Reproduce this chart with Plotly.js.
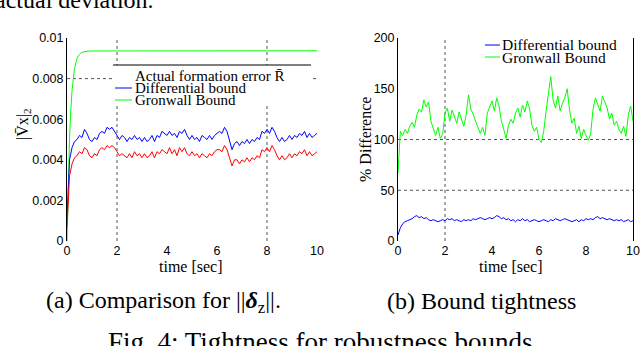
<!DOCTYPE html>
<html>
<head>
<meta charset="utf-8">
<script src="https://cdn.plot.ly/plotly-3.0.1.min.js"></script>
<style>
  html, body { margin: 0; padding: 0; background: #fff; }
  #chart { width: 640px; height: 346px; }
</style>
</head>
<body>
<div id="chart"></div>
<script>
// time samples [s]
var tSec = [0,0.1,0.2,0.3,0.4,0.5,0.6,0.7,0.8,0.9,
  1,1.1,1.2,1.3,1.4,1.5,1.6,1.7,1.8,1.9,
  2,2.1,2.2,2.3,2.4,2.5,2.6,2.7,2.8,2.9,
  3,3.1,3.2,3.3,3.4,3.5,3.6,3.7,3.8,3.9,
  4,4.1,4.2,4.3,4.4,4.5,4.6,4.7,4.8,4.9,
  5,5.1,5.2,5.3,5.4,5.5,5.6,5.7,5.8,5.9,
  6,6.1,6.2,6.3,6.4,6.5,6.6,6.7,6.8,6.9,
  7,7.1,7.2,7.3,7.4,7.5,7.6,7.7,7.8,7.9,
  8,8.1,8.2,8.3,8.4,8.5,8.6,8.7,8.8,8.9,
  9,9.1,9.2,9.3,9.4,9.5,9.6,9.7,9.8,9.9,10];

// (a) comparison
var diffBoundA = [0.0011,0.0040,0.0046,0.0049,0.0050,0.0052,0.0051,0.0055,0.0053,0.0050,
  0.0049,0.0051,0.0050,0.0053,0.0054,0.0053,0.0056,0.0055,0.0056,0.0054,
  0.0052,0.0050,0.0052,0.0051,0.0049,0.0051,0.0050,0.0052,0.0050,0.0051,
  0.0049,0.0051,0.0049,0.0050,0.0052,0.0049,0.0052,0.0051,0.0054,0.0053,
  0.0052,0.0054,0.0052,0.0053,0.0051,0.0054,0.0053,0.0055,0.0052,0.0050,
  0.0052,0.0050,0.0051,0.0049,0.0052,0.0051,0.0050,0.0052,0.0050,0.0052,
  0.0053,0.0054,0.0053,0.0056,0.0054,0.0050,0.0045,0.0048,0.0049,0.0047,
  0.0049,0.0048,0.0050,0.0048,0.0050,0.0049,0.0051,0.0050,0.0054,0.0053,
  0.0055,0.0053,0.0056,0.0054,0.0051,0.0049,0.0051,0.0049,0.0050,0.0052,
  0.0050,0.0052,0.0051,0.0053,0.0052,0.0054,0.0051,0.0053,0.0051,0.0052,0.0053];

var actualErrA = [0.0007,0.0032,0.0038,0.0041,0.0042,0.0044,0.0043,0.0046,0.0045,0.0042,
  0.0041,0.0043,0.0042,0.0045,0.0046,0.0045,0.0047,0.0046,0.0047,0.0046,
  0.0044,0.0042,0.0043,0.0042,0.0041,0.0043,0.0041,0.0044,0.0042,0.0043,
  0.0041,0.0043,0.0041,0.0042,0.0044,0.0041,0.0044,0.0043,0.0045,0.0044,
  0.0043,0.0046,0.0043,0.0045,0.0042,0.0046,0.0044,0.0046,0.0043,0.0042,
  0.0044,0.0042,0.0043,0.0041,0.0043,0.0042,0.0041,0.0043,0.0042,0.0044,
  0.0045,0.0045,0.0044,0.0047,0.0045,0.0041,0.0037,0.0040,0.0040,0.0038,
  0.0040,0.0039,0.0041,0.0039,0.0041,0.0040,0.0042,0.0041,0.0045,0.0044,
  0.0046,0.0044,0.0047,0.0045,0.0042,0.0040,0.0042,0.0040,0.0041,0.0043,
  0.0041,0.0043,0.0042,0.0044,0.0043,0.0045,0.0042,0.0044,0.0042,0.0043,0.0044];

var tGron = [0,0.05,0.1,0.15,0.2,0.3,0.4,0.5,0.6,0.8,1,10];
var gronBoundA = [0,0.0030,0.0050,0.0064,0.0074,0.0085,0.0090,0.0092,0.0093,0.00935,0.00936,0.00937];

// (b) tightness [%]
var diffPct = [6,13,17,19,20,21,22,24,25,23,
  24,22,23,21,20,21,20,19,20,21,
  20,22,21,22,20,21,20,19,21,20,
  21,20,22,21,22,23,22,21,22,23,
  22,23,25,24,22,23,21,22,20,21,
  19,21,20,22,20,21,19,20,21,20,
  19,20,21,20,19,21,20,22,21,20,
  21,22,21,20,19,20,21,19,21,20,
  22,21,22,21,23,24,22,23,22,21,
  22,21,20,21,20,21,19,20,21,19,20];

var gronPct = [67,108,104,110,106,113,117,112,124,130,
  127,139,132,137,118,110,104,112,101,105,
  126,131,118,129,122,116,127,121,113,124,
  144,130,125,118,111,106,112,104,126,132,
  138,128,141,133,118,110,101,114,120,116,
  126,131,122,134,127,138,130,114,108,112,
  100,97,108,128,148,162,139,131,143,128,
  136,141,150,129,116,121,106,113,101,110,
  104,99,106,130,141,134,128,143,136,131,
  120,126,114,118,110,106,113,103,124,133,118];

var xTicks = [0,2,4,6,8,10];
var yTicksA = [0,0.002,0.004,0.006,0.008,0.01];
var yTextA = ['0','0.002','0.004','0.006','0.008','0.01'];
var yTicksB = [0,50,100,150,200];

// pixel -> paper helpers (margins are zero)
function px(x){ return x / 640; }
function py(y){ return 1 - y / 346; }

var serif = 'Liberation Serif, DejaVu Serif, serif';
var sans = 'Liberation Sans, Arial, sans-serif';

var data = [
  {x: tGron, y: gronBoundA, xaxis: 'x', yaxis: 'y', type: 'scatter', mode: 'lines',
   line: {color: '#00ff00', width: 1}, name: 'Gronwall Bound'},
  {x: tSec, y: diffBoundA, xaxis: 'x', yaxis: 'y', type: 'scatter', mode: 'lines',
   line: {color: '#0000ff', width: 1}, name: 'Differential bound'},
  {x: tSec, y: actualErrA, xaxis: 'x', yaxis: 'y', type: 'scatter', mode: 'lines',
   line: {color: '#ff0000', width: 1}, name: 'Actual formation error'},
  {x: tSec, y: gronPct, xaxis: 'x2', yaxis: 'y2', type: 'scatter', mode: 'lines',
   line: {color: '#00ff00', width: 1}, name: 'Gronwall Bound'},
  {x: tSec, y: diffPct, xaxis: 'x2', yaxis: 'y2', type: 'scatter', mode: 'lines',
   line: {color: '#0000ff', width: 1}, name: 'Differential bound'}
];

var axX = {range: [0, 10], tickvals: xTicks, showgrid: false, zeroline: false,
  showline: false, ticks: '', tickfont: {family: sans, size: 12.5, color: '#000'}};
var axY = {showgrid: false, zeroline: false, showline: true, linecolor: '#000',
  linewidth: 1, ticks: '', tickfont: {family: sans, size: 12.5, color: '#000'}};

var dot = {color: '#555', width: 1, dash: 'dot'};

var shapes = [
  // grid (a)
  {type: 'line', xref: 'x', yref: 'y', x0: 2, x1: 2, y0: 0, y1: 0.01, line: dot, layer: 'below'},
  {type: 'line', xref: 'x', yref: 'y', x0: 8, x1: 8, y0: 0, y1: 0.01, line: dot, layer: 'below'},
  {type: 'line', xref: 'x', yref: 'y', x0: 0, x1: 10, y0: 0.008, y1: 0.008, line: dot, layer: 'below'},
  // grid (b)
  {type: 'line', xref: 'x2', yref: 'y2', x0: 2, x1: 2, y0: 0, y1: 200, line: dot, layer: 'below'},
  {type: 'line', xref: 'x2', yref: 'y2', x0: 0, x1: 10, y0: 100, y1: 100, line: dot, layer: 'below'},
  {type: 'line', xref: 'x2', yref: 'y2', x0: 0, x1: 10, y0: 50, y1: 50, line: dot, layer: 'below'},
  // legend box (a)
  {type: 'rect', xref: 'paper', yref: 'paper', x0: px(113), x1: px(311), y0: py(105), y1: py(65),
   fillcolor: '#fff', line: {width: 0}, layer: 'above'},
  {type: 'line', xref: 'paper', yref: 'paper', x0: px(113), x1: px(311), y0: py(65), y1: py(65),
   line: {color: '#000', width: 1}},
  {type: 'line', xref: 'paper', yref: 'paper', x0: px(115), x1: px(132), y0: py(88), y1: py(88),
   line: {color: '#0000ff', width: 1}},
  {type: 'line', xref: 'paper', yref: 'paper', x0: px(115), x1: px(132), y0: py(100), y1: py(100),
   line: {color: '#00ff00', width: 1}},
  // legend (b)
  {type: 'line', xref: 'paper', yref: 'paper', x0: px(485), x1: px(500), y0: py(45), y1: py(45),
   line: {color: '#0000ff', width: 1}},
  {type: 'line', xref: 'paper', yref: 'paper', x0: px(485), x1: px(500), y0: py(57), y1: py(57),
   line: {color: '#00ff00', width: 1}}
];

function label(text, x, y, size, opts){
  var a = {text: text, x: px(x), y: py(y), xref: 'paper', yref: 'paper', showarrow: false,
    xanchor: 'center', yanchor: 'middle', font: {family: serif, size: size, color: '#000'}};
  for (var k in opts) a[k] = opts[k];
  return a;
}

var annotations = [
  label('actual deviation.', -7, 0, 24, {xanchor: 'left'}),
  label('Actual formation error R\u0304', 133, 76, 15, {xanchor: 'left'}),
  label('Differential bound', 133, 88, 15, {xanchor: 'left'}),
  label('Gronwall Bound', 133, 100, 15, {xanchor: 'left'}),
  label('Differential bound', 500, 45, 15.5, {xanchor: 'left'}),
  label('Gronwall Bound', 500, 57, 15.5, {xanchor: 'left'}),
  label('|V\u0304x|<sub>2</sub>', 24, 124, 16, {textangle: -90}),
  label('% Difference', 365, 140, 16, {textangle: -90}),
  label('time [sec]', 191, 266, 16),
  label('time [sec]', 511, 266, 16),
  label('(a) Comparison for ||<b><i>\u03b4</i></b><sub>z</sub>||.', 163, 302, 24),
  label('(b) Bound tightness', 481, 301, 24),
  label('Fig. 4: Tightness for robustness bounds', 320, 342, 27)
];

var layout = {
  width: 640, height: 346,
  margin: {l: 0, r: 0, t: 0, b: 0},
  paper_bgcolor: '#fff', plot_bgcolor: '#fff',
  showlegend: false,
  xaxis: Object.assign({}, axX, {domain: [px(67), px(317)], anchor: 'y'}),
  yaxis: Object.assign({}, axY, {domain: [py(241), py(38)], anchor: 'x', range: [0, 0.01],
    tickvals: yTicksA, ticktext: yTextA}),
  xaxis2: Object.assign({}, axX, {domain: [px(398), px(633)], anchor: 'y2'}),
  yaxis2: Object.assign({}, axY, {domain: [py(241), py(38)], anchor: 'x2', range: [0, 200],
    tickvals: yTicksB, mirror: true}),
  shapes: shapes,
  annotations: annotations
};

Plotly.newPlot('chart', data, layout, {displayModeBar: false, staticPlot: true});
</script>
</body>
</html>
